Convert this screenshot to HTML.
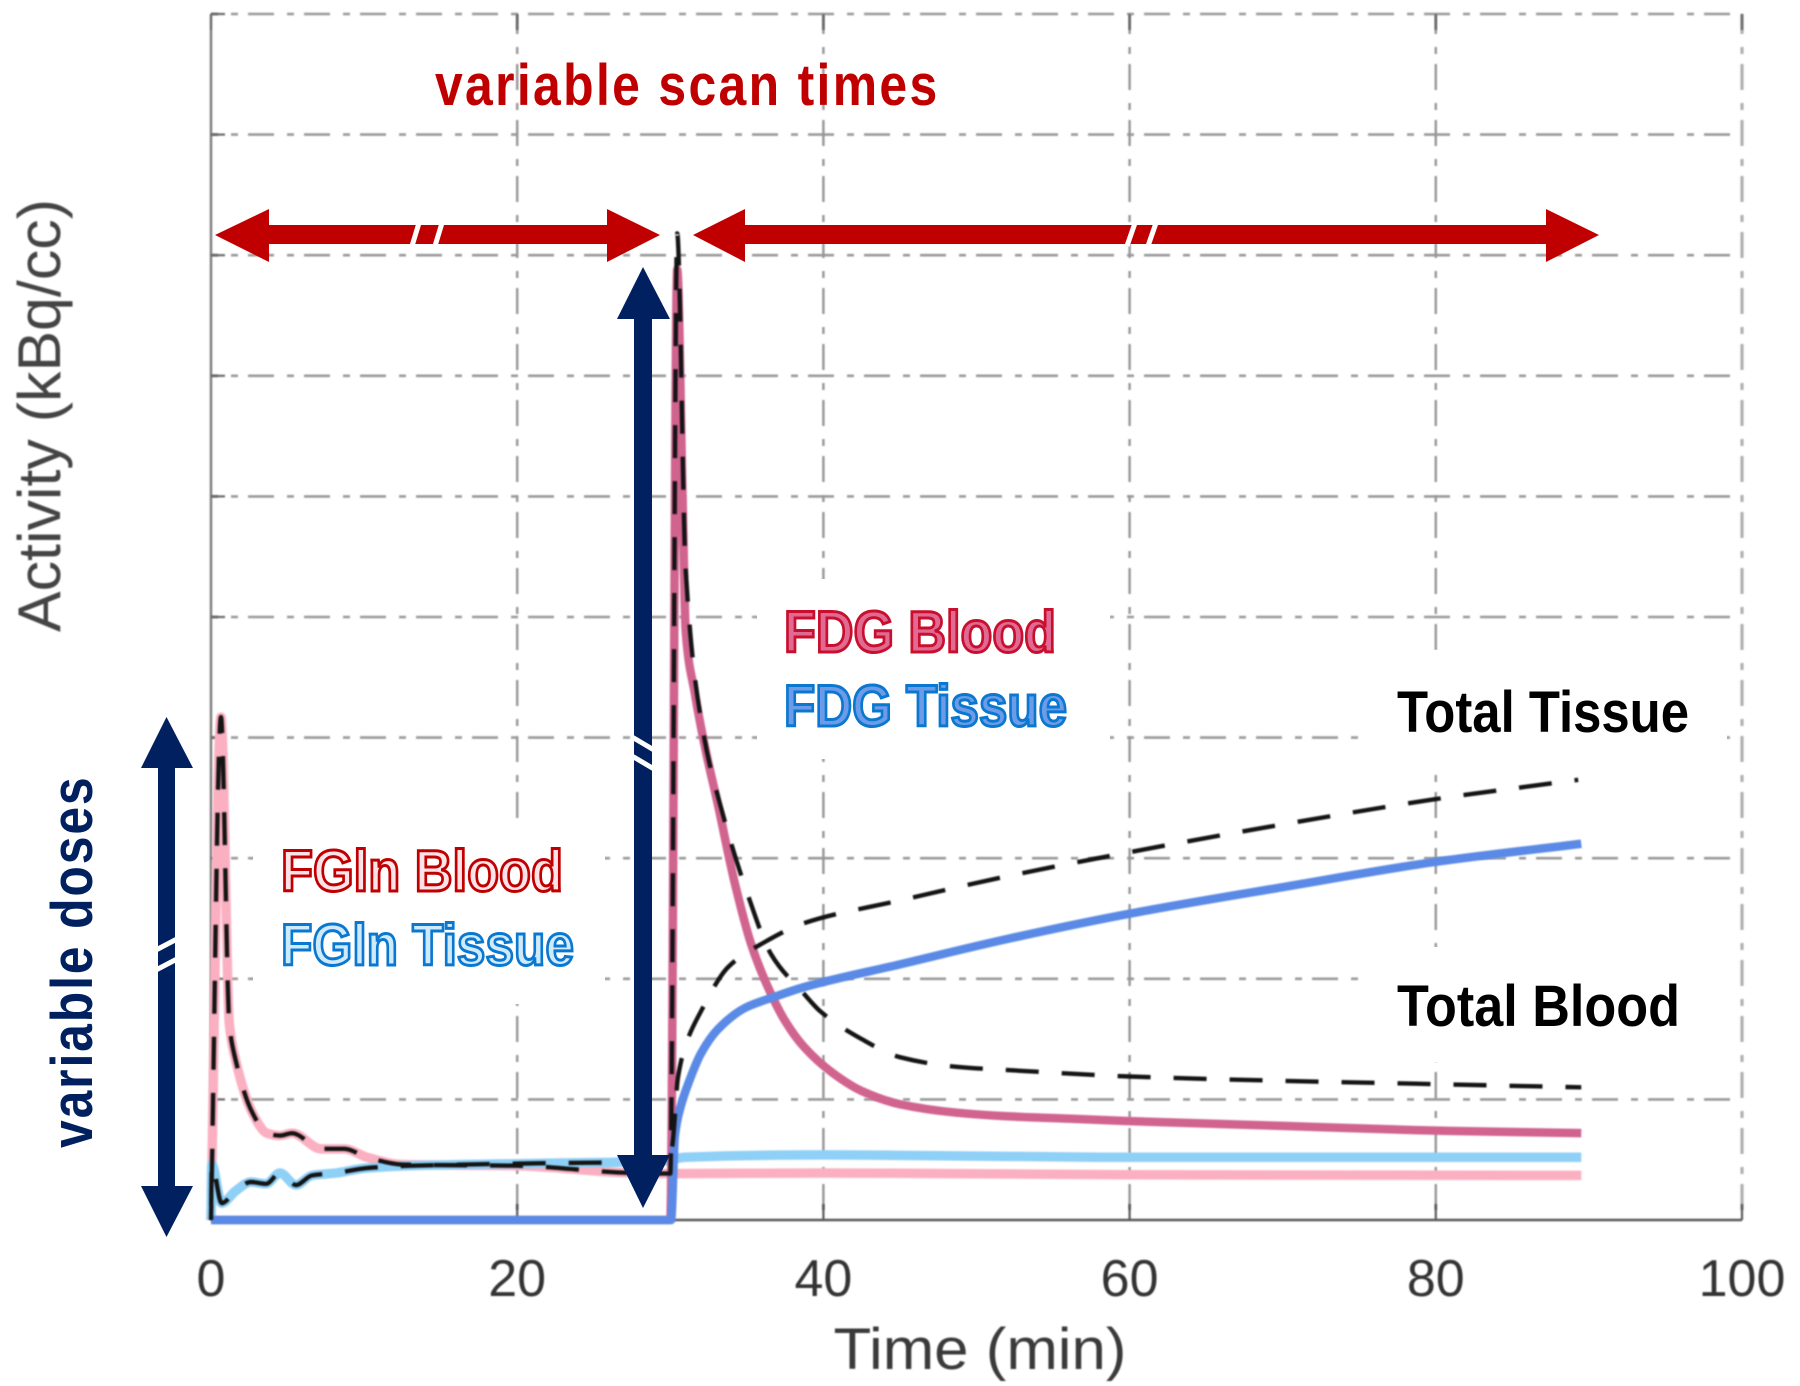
<!DOCTYPE html>
<html lang="en">
<head>
<meta charset="utf-8">
<title>Activity vs Time</title>
<style>
  html, body { margin: 0; padding: 0; background: #fff; }
  svg { display: block; font-family: "Liberation Sans", sans-serif; }
  .soft { filter: blur(0.7px); }
  .note { font-weight: bold; font-size: 58px; }
</style>
</head>
<body>
<svg id="chart" xmlns="http://www.w3.org/2000/svg" width="1800" height="1386" viewBox="0 0 1800 1386">
  <rect x="0" y="0" width="1800" height="1386" fill="#fff"/>
  <g id="grid" class="soft"></g>
  <g fill="#fff">
    <rect x="253" y="819" width="352" height="185"/>
    <rect x="757" y="579" width="353" height="180"/>
    <rect x="1362" y="650" width="365" height="116"/>
    <rect x="1362" y="947" width="373" height="115"/>
  </g>
  <g id="axes" class="soft"></g>
  <g id="series" class="soft"></g>

  <g>
    <polygon fill="#c00000" points="215,235 269,209 269,225 607,225 607,209 660,235 607,262 607,244 269,244 269,262"/>
    <line x1="412" y1="246" x2="419" y2="223" stroke="#fff" stroke-width="5"/>
    <line x1="435" y1="246" x2="442" y2="223" stroke="#fff" stroke-width="5"/>
    <polygon fill="#c00000" points="693,235 745,209 745,225 1546,225 1546,209 1599,235 1546,262 1546,244 745,244 745,262"/>
    <line x1="1127" y1="246" x2="1135" y2="223" stroke="#fff" stroke-width="5"/>
    <line x1="1148" y1="246" x2="1156" y2="223" stroke="#fff" stroke-width="5"/>
  </g>
  <g>
    <polygon fill="#002060" points="166.5,717 193,768 175,768 175,1186 193,1186 166.5,1237 141,1186 158,1186 158,768 141,768"/>
    <line x1="156" y1="950" x2="177" y2="939" stroke="#fff" stroke-width="5"/>
    <line x1="156" y1="970" x2="177" y2="959" stroke="#fff" stroke-width="5"/>
    <polygon fill="#002060" points="643,267 670,319 652,319 652,1155 670,1155 643,1208 617,1155 634,1155 634,319 617,319"/>
    <line x1="632" y1="737" x2="654" y2="750" stroke="#fff" stroke-width="5"/>
    <line x1="632" y1="756" x2="654" y2="769" stroke="#fff" stroke-width="5"/>
  </g>

  <text class="note" transform="translate(435,105) scale(0.86,1)" x="0" y="0" fill="#c00000" textLength="584" lengthAdjust="spacing">variable scan times</text>
  <text class="note" transform="translate(92,1148) rotate(-90) scale(0.86,1)" x="0" y="0" fill="#002060" textLength="431" lengthAdjust="spacing">variable doses</text>

  <text class="note" x="281" y="891" fill="#fbe3e8" stroke="#c00000" stroke-width="3" textLength="282" lengthAdjust="spacingAndGlyphs">FGln Blood</text>
  <text class="note" x="281" y="965" fill="#cfeafa" stroke="#0a78d0" stroke-width="3" textLength="293" lengthAdjust="spacingAndGlyphs">FGln Tissue</text>
  <text class="note" x="784" y="652" fill="#e06a94" stroke="#c8102e" stroke-width="3" textLength="272" lengthAdjust="spacingAndGlyphs">FDG Blood</text>
  <text class="note" x="784" y="726" fill="#6c9be8" stroke="#0a78d0" stroke-width="3" textLength="283" lengthAdjust="spacingAndGlyphs">FDG Tissue</text>
  <text class="note" x="1397" y="732" fill="#000" textLength="292" lengthAdjust="spacingAndGlyphs">Total Tissue</text>
  <text class="note" x="1397" y="1026" fill="#000" textLength="283" lengthAdjust="spacingAndGlyphs">Total Blood</text>

  <text class="soft" x="980" y="1369" fill="#3a3a3a" font-size="58" text-anchor="middle" textLength="293" lengthAdjust="spacingAndGlyphs">Time (min)</text>
  <text class="soft" transform="translate(60,632) rotate(-90)" x="0" y="0" fill="#444" font-size="60" textLength="433" lengthAdjust="spacingAndGlyphs">Activity (kBq/cc)</text>
</svg>

<script>
const xTickValues = [0, 20, 40, 60, 80, 100];
const xTickLabels = ['0', '20', '40', '60', '80', '100'];
const yTickValues = [0, 1, 2, 3, 4, 5, 6, 7, 8, 9, 10];

const fglnBloodTime = [0, 0.65, 1.2, 1.6, 2.7, 3.65, 4.5, 5.3, 7.2, 8.7, 10.2, 12.5, 20, 27.5, 30, 40, 60, 89.5];
const fglnBloodValues = [0, 4.17, 1.62, 1.33, 0.89, 0.72, 0.7, 0.72, 0.59, 0.59, 0.52, 0.46, 0.45, 0.39, 0.385, 0.39, 0.375, 0.37];

const fglnTissueTime = [0, 0.05, 0.7, 1.6, 2.6, 3.6, 4.5, 5.55, 6.6, 8.2, 10.1, 13.1, 21.3, 29.5, 31, 40, 60, 89.5];
const fglnTissueValues = [0, 0.46, 0.14, 0.24, 0.315, 0.3, 0.39, 0.29, 0.37, 0.39, 0.43, 0.45, 0.47, 0.49, 0.52, 0.54, 0.52, 0.52];

const fdgBloodTime = [0, 30, 30.45, 30.8, 31, 31.6, 32.3, 33.1, 34.2, 35.3, 36.45, 37.5, 38.7, 40.6, 42.5, 45, 48.7, 52, 56.2, 60, 70, 78.7, 89.5];
const fdgBloodValues = [0, 0, 7.88, 6.0, 4.9, 4.37, 3.9, 3.45, 2.8, 2.28, 1.91, 1.65, 1.44, 1.22, 1.07, 0.96, 0.89, 0.86, 0.84, 0.82, 0.78, 0.745, 0.72];

const fdgTissueTime = [0, 30.05, 30.3, 30.7, 31.2, 32, 33.1, 34.9, 36.8, 38.7, 45, 52, 60, 70, 80, 89.5];
const fdgTissueValues = [0, 0, 0.7, 0.95, 1.14, 1.38, 1.58, 1.76, 1.85, 1.93, 2.12, 2.33, 2.54, 2.76, 2.97, 3.12];

const totalTissueTime = [0, 0.05, 0.7, 1.6, 2.6, 3.6, 4.5, 5.55, 6.6, 8.2, 10.1, 13.1, 21.3, 29.5, 30.1, 30.5, 31, 32, 33.8, 36.1, 38.7, 45, 52, 60, 70, 80, 89.3];
const totalTissueValues = [0, 0.46, 0.14, 0.24, 0.315, 0.3, 0.39, 0.29, 0.37, 0.39, 0.43, 0.45, 0.47, 0.49, 0.6, 1.18, 1.45, 1.73, 2.1, 2.3, 2.46, 2.65, 2.85, 3.05, 3.28, 3.49, 3.65];

const totalBloodTime = [0, 0.65, 1.2, 1.6, 2.7, 3.65, 4.5, 5.3, 7.2, 8.7, 10.2, 12.5, 20, 27.5, 30, 30.45, 31, 32.1, 33.4, 35, 36.6, 38.7, 39.8, 42.5, 45, 48.7, 52.5, 60, 71.3, 78.7, 89.5];
const totalBloodValues = [0, 4.17, 1.62, 1.33, 0.89, 0.72, 0.7, 0.72, 0.59, 0.59, 0.52, 0.46, 0.45, 0.39, 0.385, 8.18, 5.4, 4.08, 3.38, 2.72, 2.2, 1.88, 1.73, 1.5, 1.35, 1.27, 1.24, 1.19, 1.15, 1.13, 1.1];

const SVG_NS = 'http://www.w3.org/2000/svg';
const plotLeft = 211, plotRight = 1742, plotTop = 14, plotBottom = 1220;
const xDomainMax = 100, yDomainMax = 10;

function xScale(t) { return plotLeft + (t / xDomainMax) * (plotRight - plotLeft); }
function yScale(v) { return plotBottom - (v / yDomainMax) * (plotBottom - plotTop); }

function svgEl(tag, attrs) {
  const el = document.createElementNS(SVG_NS, tag);
  for (const k in attrs) el.setAttribute(k, attrs[k]);
  return el;
}

const gridGroup = document.getElementById('grid');
const axesGroup = document.getElementById('axes');
const seriesGroup = document.getElementById('series');

yTickValues.forEach(function (v) {
  if (v === 0) return;
  const line = svgEl('line', { x1: plotLeft, x2: plotRight, y1: yScale(v), y2: yScale(v), stroke: '#9a9a9a', 'stroke-width': 2.6, 'stroke-dasharray': '26 13 7 10', 'stroke-dashoffset': 19 });
  
  
  gridGroup.appendChild(line);
});

xTickValues.forEach(function (t) {
  if (t === 0) return;
  const line = svgEl('line', { x1: xScale(t), x2: xScale(t), y1: plotTop, y2: plotBottom, stroke: t === 100 ? '#b0b0b0' : '#969696', 'stroke-width': t === 100 ? 3.2 : 2.4, 'stroke-dasharray': '26 13 7 10', 'stroke-dashoffset': 6 });
  
  
  gridGroup.appendChild(line);
});

const leftAxis = svgEl('line', { x1: plotLeft, x2: plotLeft, y1: plotTop, y2: plotBottom, stroke: '#7a7a7a', 'stroke-width': 2.4 });


axesGroup.appendChild(leftAxis);

const bottomAxis = svgEl('line', { x1: plotLeft, x2: plotRight, y1: plotBottom, y2: plotBottom, stroke: '#5a5a5a', 'stroke-width': 2.6 });


axesGroup.appendChild(bottomAxis);

yTickValues.forEach(function (v) {
  const tick = svgEl('line', { x1: plotLeft, x2: plotLeft + 14, y1: yScale(v), y2: yScale(v), stroke: '#6a6a6a', 'stroke-width': 2.2 });
  
  
  axesGroup.appendChild(tick);
});

xTickValues.forEach(function (t, i) {
  const tick = svgEl('line', { x1: xScale(t), x2: xScale(t), y1: plotBottom, y2: plotBottom - 16, stroke: '#5a5a5a', 'stroke-width': 2.2 });
  
  
  axesGroup.appendChild(tick);
  const topTick = svgEl('line', { x1: xScale(t), x2: xScale(t), y1: plotTop, y2: plotTop + 16, stroke: '#6a6a6a', 'stroke-width': 2.2 });
  
  
  axesGroup.appendChild(topTick);
  const label = svgEl('text', { x: xScale(t), y: 1296, fill: '#333', 'font-size': 52, 'text-anchor': 'middle' });
  
  
  label.textContent = xTickLabels[i];
  axesGroup.appendChild(label);
});

/* Monotone cubic path so that curves bend smoothly without overshoot. */
function pathFrom(times, values) {
  const px = times.map(xScale);
  const py = values.map(yScale);
  const n = px.length;
  const slopes = [];
  for (let i = 0; i < n - 1; i++) slopes.push((py[i + 1] - py[i]) / (px[i + 1] - px[i]));
  const m = [slopes[0]];
  for (let i = 1; i < n - 1; i++) {
    if (slopes[i - 1] * slopes[i] <= 0) {
      m.push(0);
    } else {
      const w1 = 2 * (px[i + 1] - px[i]) + (px[i] - px[i - 1]);
      const w2 = (px[i + 1] - px[i]) + 2 * (px[i] - px[i - 1]);
      m.push((w1 + w2) / (w1 / slopes[i - 1] + w2 / slopes[i]));
    }
  }
  m.push(slopes[n - 2]);
  let d = 'M' + px[0].toFixed(2) + ' ' + py[0].toFixed(2);
  for (let i = 0; i < n - 1; i++) {
    const h = (px[i + 1] - px[i]) / 3;
    d += ' C' + (px[i] + h).toFixed(2) + ' ' + (py[i] + m[i] * h).toFixed(2) +
         ' ' + (px[i + 1] - h).toFixed(2) + ' ' + (py[i + 1] - m[i + 1] * h).toFixed(2) +
         ' ' + px[i + 1].toFixed(2) + ' ' + py[i + 1].toFixed(2);
  }
  return d;
}

function addSeries(name, times, values, color, width, dash, endPhase) {
  const path = svgEl('path', { d: pathFrom(times, values), fill: 'none', stroke: color, 'stroke-width': width, 'stroke-linejoin': 'round', 'stroke-linecap': 'butt' });
  
  
  seriesGroup.appendChild(path);
  if (dash) {
    path.setAttribute('stroke-dasharray', dash.join(' '));
    const period = dash[0] + dash[1];
    const len = path.getTotalLength();
    const offset = ((endPhase - len) % period + period) % period;
    path.setAttribute('stroke-dashoffset', offset.toFixed(2));
  }
}

addSeries('fgln-blood-line', fglnBloodTime, fglnBloodValues, '#fbb0c2', 9.5);
addSeries('fgln-tissue-line', fglnTissueTime, fglnTissueValues, '#8fd0f7', 9.5);
addSeries('fdg-blood-line', fdgBloodTime, fdgBloodValues, '#d1638f', 8.5);
addSeries('fdg-tissue-line', fdgTissueTime, fdgTissueValues, '#5a8ae6', 8.5);
addSeries('total-tissue-line', totalTissueTime, totalTissueValues, '#141414', 4.4, [33, 23], 4);
addSeries('total-blood-line', totalBloodTime, totalBloodValues, '#141414', 4.4, [33, 23], 16);
</script>
</body>
</html>
